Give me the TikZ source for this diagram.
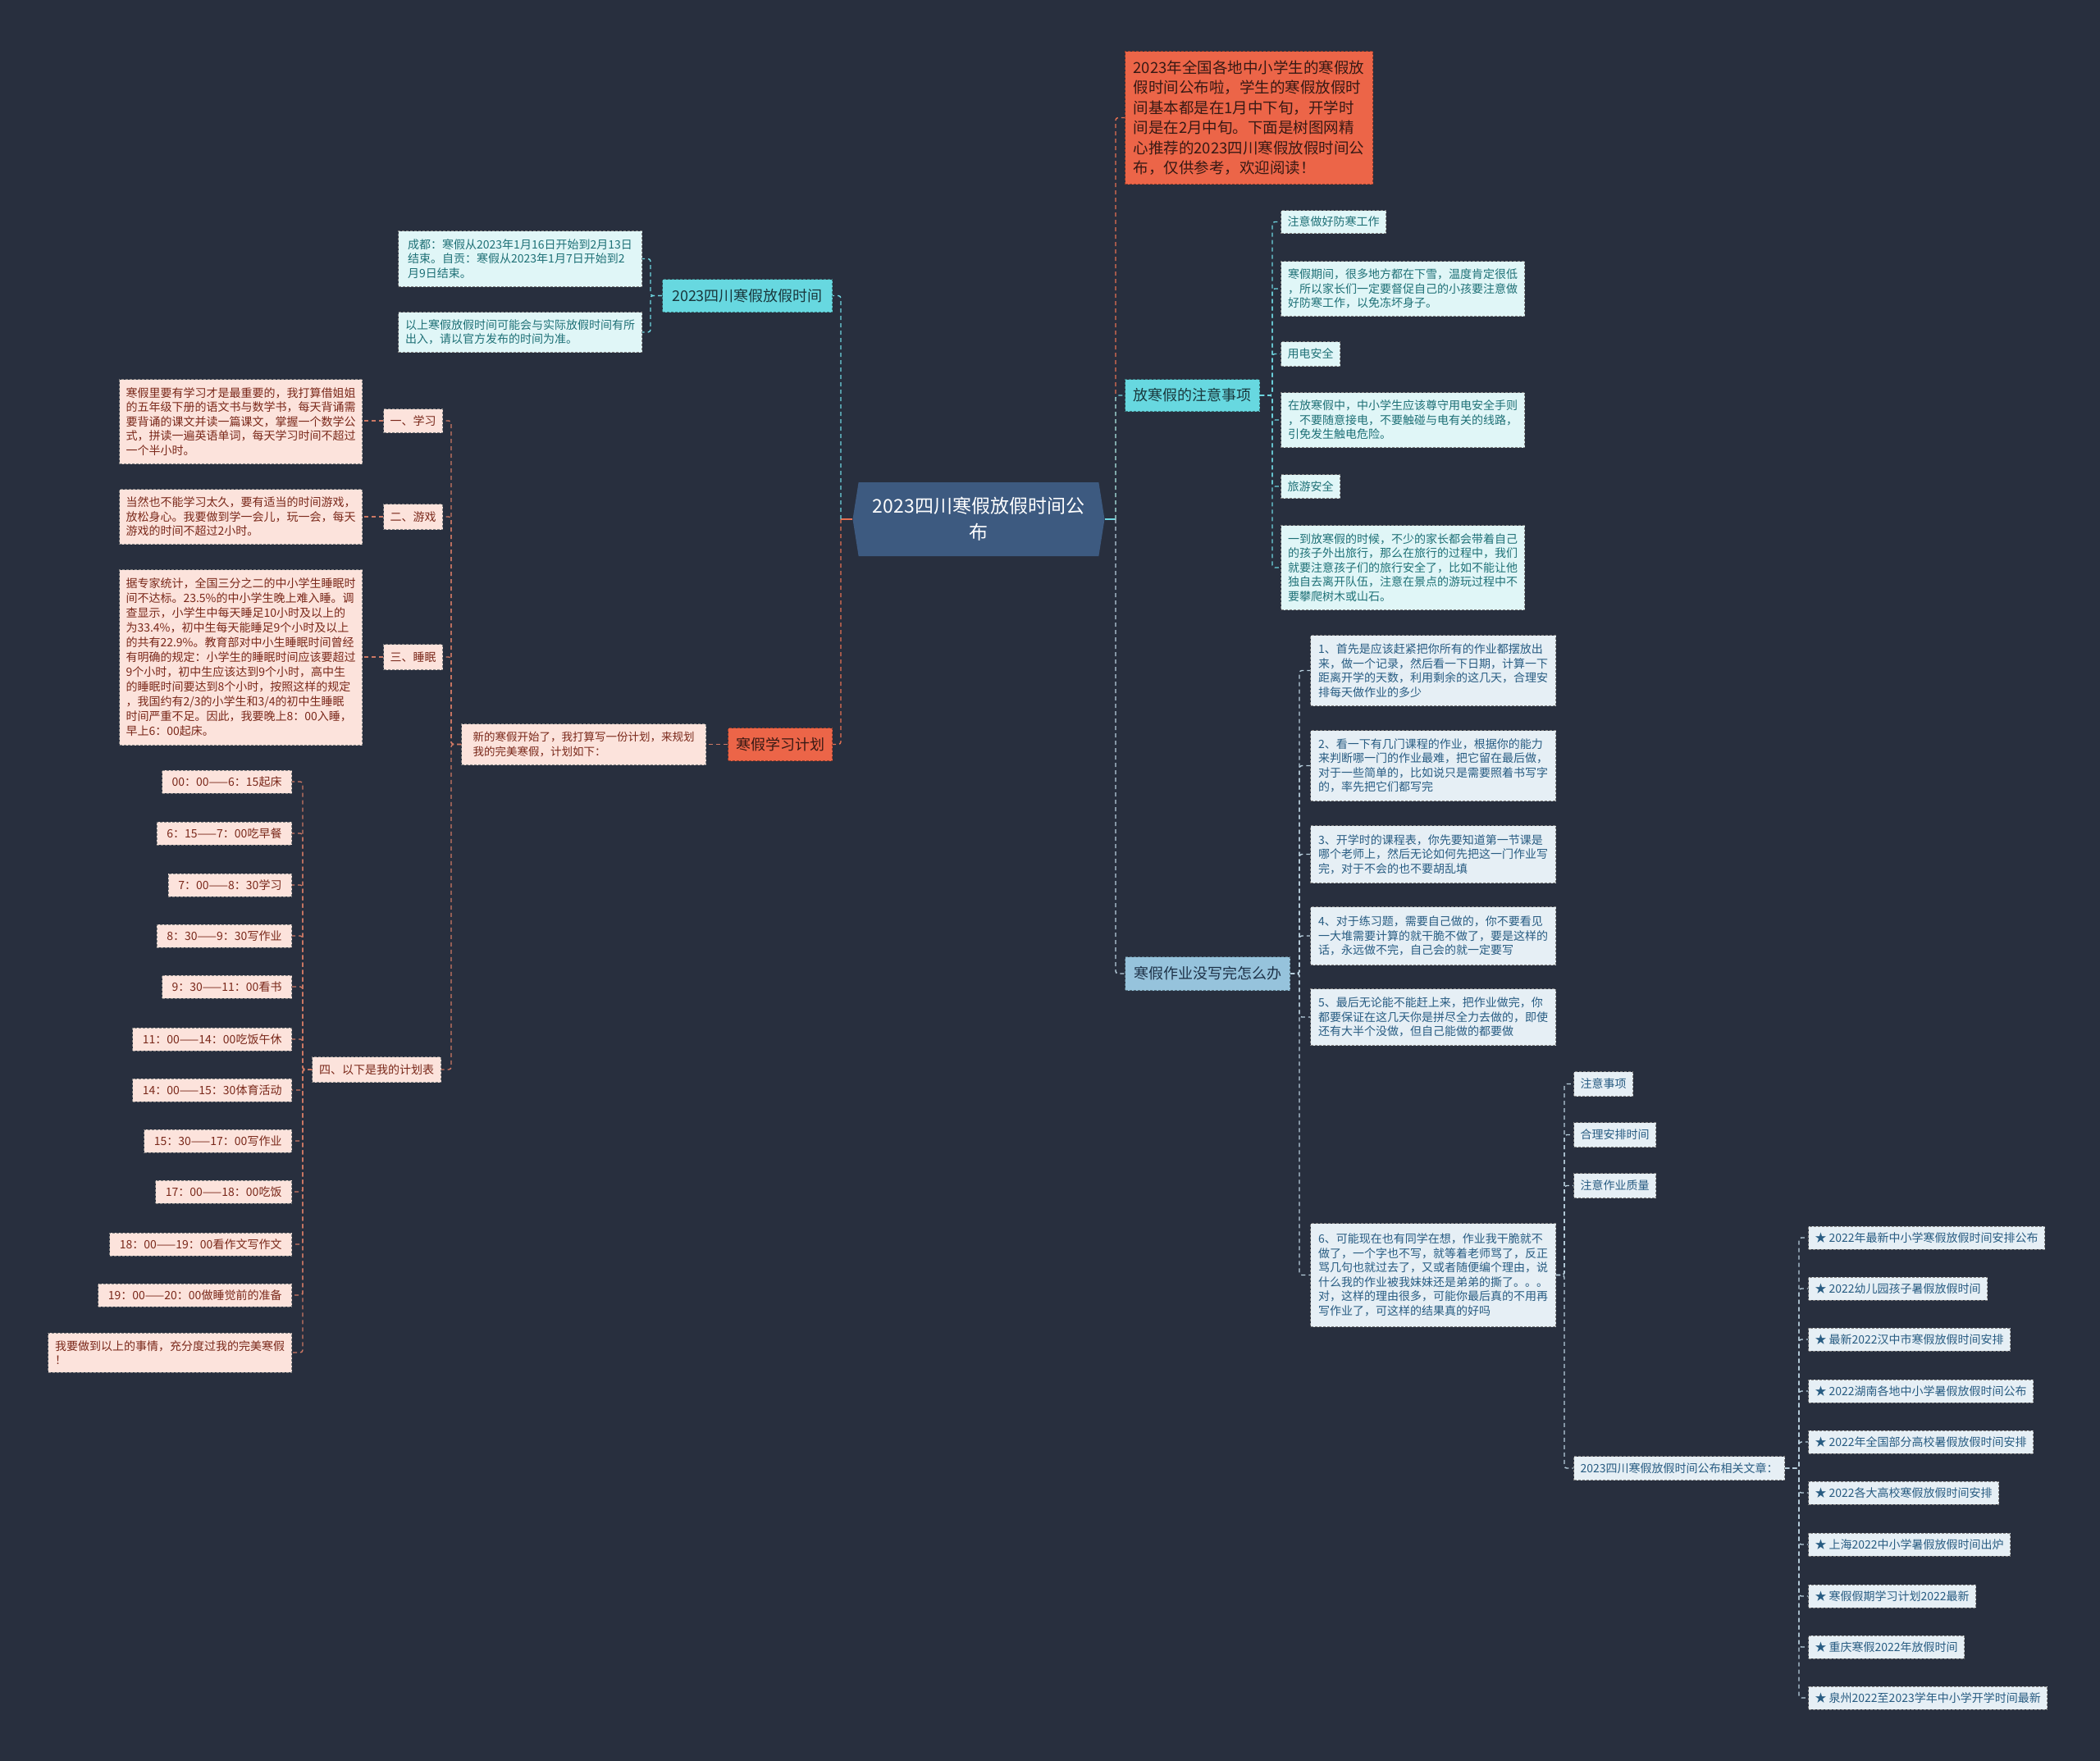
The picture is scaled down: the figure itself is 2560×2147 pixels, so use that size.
\documentclass[tikz,border=0pt]{standalone}
\usepackage{fontspec}
\setmainfont{Noto Sans CJK SC}
\usetikzlibrary{shapes.symbols}
\newcommand\fsz[2]{\fontsize{#1pt}{#2pt}\selectfont}
\definecolor{bg}{RGB}{40,47,62}
\definecolor{ctrfill}{RGB}{61,90,128}
\definecolor{orng}{RGB}{236,101,72}
\definecolor{orngtext}{RGB}{55,25,20}
\definecolor{cyanb}{RGB}{103,216,224}
\definecolor{cyanbtext}{RGB}{25,55,60}
\definecolor{cleaf}{RGB}{224,246,247}
\definecolor{ctext}{RGB}{30,112,118}
\definecolor{pleaf}{RGB}{252,227,220}
\definecolor{ptext}{RGB}{122,40,26}
\definecolor{sleaf}{RGB}{230,239,245}
\definecolor{stext}{RGB}{40,92,130}
\definecolor{sbranch}{RGB}{150,195,220}
\definecolor{sbtext}{RGB}{30,50,72}
\definecolor{ocon}{RGB}{230,112,82}
\definecolor{ccon}{RGB}{110,214,224}
\definecolor{pcon}{RGB}{205,120,100}
\definecolor{scon}{RGB}{185,208,222}
\tikzset{
  base/.style={anchor=north west, align=left, inner xsep=8pt, inner ysep=3pt,
    line width=1pt, dash pattern=on 3pt off 2pt},
  ctrbox/.style={shape=signal, signal to=west and east, signal pointer angle=162,
    fill=ctrfill, text=white, align=center, font=\fsz{23}{32}, inner xsep=6pt},
  obranch/.style={base, fill=orng, draw=orng!60!black, text=orngtext, font=\fsz{18}{24}},
  cbranch/.style={base, fill=cyanb, draw=cyanb!55!black, text=cyanbtext, font=\fsz{18}{24}},
  sbranchbox/.style={base, fill=sbranch, draw=sbranch!55!black, text=sbtext, font=\fsz{18}{24}},
  cleafbox/.style={base, fill=cleaf, draw=black!50, text=ctext, font=\fsz{14}{17.5}},
  pleafbox/.style={base, fill=pleaf, draw=black!50, text=ptext, font=\fsz{14}{17.5}},
  sleafbox/.style={base, fill=sleaf, draw=black!50, text=stext, font=\fsz{14}{17.5}},
  schedbox/.style={pleafbox, anchor=east, minimum height=28pt, inner xsep=12pt},
  artbox/.style={sleafbox, anchor=west, minimum height=28pt},
  conn/.style={line width=1.4pt, dash pattern=on 5pt off 4pt, rounded corners=3pt},
  oconn/.style={conn, draw=ocon},
  cconn/.style={conn, draw=ccon},
  pconn/.style={conn, draw=pcon},
  sconn/.style={conn, draw=scon},
}
\begin{document}
\begin{tikzpicture}[x=1pt,y=-1pt]
\fill[bg] (0,0) rectangle (2560,2147);
\useasboundingbox (0,0) rectangle (2560,2147);

% bus coordinates
\coordinate (busR) at (1360,0);
\coordinate (busL) at (1025,0);
\coordinate (busA) at (793,0);
\coordinate (busP) at (550,0);
\coordinate (busS) at (369,0);
\coordinate (busN) at (1551,0);
\coordinate (busH) at (1584,0);
\coordinate (busSix) at (1907,0);
\coordinate (busArt) at (2193,0);

% centre
\node[ctrbox, minimum width=307pt, minimum height=90pt] (ctr) at (1193,633)
  {2023四川寒假放假时间公\\布};

% top intro box
\node[obranch, font=\fsz{18.5}{24.5}, minimum width=302pt, minimum height=162pt, inner xsep=10pt] (intro) at (1371,62)
  {2023年全国各地中小学生的寒假放\\假时间公布啦，学生的寒假放假时\\间基本都是在1月中下旬，开学时\\间是在2月中旬。下面是树图网精\\心推荐的2023四川寒假放假时间公\\布，仅供参考，欢迎阅读！};

% left branches
\node[cbranch, minimum width=207pt, minimum height=40pt] (bA) at (807,340) {2023四川寒假放假时间};
\node[obranch, minimum width=127pt, minimum height=40pt] (bB) at (887,887) {寒假学习计划};

% right branches
\node[cbranch, minimum width=164pt, minimum height=39pt] (bC) at (1371,462) {放寒假的注意事项};
\node[sbranchbox, minimum width=201pt, minimum height=41pt] (bD) at (1371,1166) {寒假作业没写完怎么办};

% leaves of A
\node[cleafbox, minimum width=297pt, minimum height=68pt, inner xsep=7pt] (a1) at (485,281)
  {成都：寒假从2023年1月16日开始到2月13日\\结束。自贡：寒假从2023年1月7日开始到2\\月9日结束。};
\node[cleafbox, minimum width=297pt, minimum height=49pt, inner xsep=7pt] (a2) at (485,380)
  {以上寒假放假时间可能会与实际放假时间有所\\出入，请以官方发布的时间为准。};

% plan branch
\node[pleafbox, font=\fsz{13.5}{17.5}, minimum width=298pt, minimum height=50pt, inner xsep=7pt] (pi) at (562,882)
  {新的寒假开始了，我打算写一份计划，来规划\\我的完美寒假，计划如下：};
\node[pleafbox, minimum width=70pt, minimum height=29pt] (p1) at (467,498) {一、学习};
\node[pleafbox, minimum width=70pt, minimum height=31pt] (p2) at (467,614) {二、游戏};
\node[pleafbox, minimum width=70pt, minimum height=31pt] (p3) at (467,785) {三、睡眠};
\node[pleafbox, minimum width=157pt, minimum height=31pt] (p4) at (380,1288) {四、以下是我的计划表};

\node[pleafbox, minimum width=296pt, minimum height=103pt] (q1) at (145,462)
  {寒假里要有学习才是最重要的，我打算借姐姐\\的五年级下册的语文书与数学书，每天背诵需\\要背诵的课文并读一篇课文，掌握一个数学公\\式，拼读一遍英语单词，每天学习时间不超过\\一个半小时。};
\node[pleafbox, minimum width=296pt, minimum height=67pt] (q2) at (145,596)
  {当然也不能学习太久，要有适当的时间游戏，\\放松身心。我要做到学一会儿，玩一会，每天\\游戏的时间不超过2小时。};
\node[pleafbox, font=\fsz{14}{18}, minimum width=296pt, minimum height=214pt] (q3) at (145,694)
  {据专家统计，全国三分之二的中小学生睡眠时\\间不达标。23.5\%的中小学生晚上难入睡。调\\查显示，小学生中每天睡足10小时及以上的\\为33.4\%，初中生每天能睡足9个小时及以上\\的共有22.9\%。教育部对中小生睡眠时间曾经\\有明确的规定：小学生的睡眠时间应该要超过\\9个小时，初中生应该达到9个小时，高中生\\的睡眠时间要达到8个小时，按照这样的规定\\，我国约有2/3的小学生和3/4的初中生睡眠\\时间严重不足。因此，我要晚上8：00入睡，\\早上6：00起床。};

% schedule
\node[schedbox] (t1) at (356,953) {00：00——6：15起床};
\node[schedbox] (t2) at (356,1016) {6：15——7：00吃早餐};
\node[schedbox] (t3) at (356,1079) {7：00——8：30学习};
\node[schedbox] (t4) at (356,1141) {8：30——9：30写作业};
\node[schedbox] (t5) at (356,1203) {9：30——11：00看书};
\node[schedbox] (t6) at (356,1267) {11：00——14：00吃饭午休};
\node[schedbox] (t7) at (356,1329) {14：00——15：30体育活动};
\node[schedbox] (t8) at (356,1391) {15：30——17：00写作业};
\node[schedbox] (t9) at (356,1453) {17：00——18：00吃饭};
\node[schedbox] (t10) at (356,1517) {18：00——19：00看作文写作文};
\node[schedbox] (t11) at (356,1579) {19：00——20：00做睡觉前的准备};
\node[pleafbox, anchor=east, minimum width=297pt, minimum height=48pt] (t12) at (356,1649) {我要做到以上的事情，充分度过我的完美寒假\\！};

% notes branch leaves
\node[cleafbox, minimum width=127pt, minimum height=28pt] (n1) at (1561,256) {注意做好防寒工作};
\node[cleafbox, minimum width=297pt, minimum height=67pt] (n2) at (1561,318)
  {寒假期间，很多地方都在下雪，温度肯定很低\\，所以家长们一定要督促自己的小孩要注意做\\好防寒工作，以免冻坏身子。};
\node[cleafbox, minimum width=70pt, minimum height=30pt] (n3) at (1561,416) {用电安全};
\node[cleafbox, minimum width=297pt, minimum height=67pt] (n4) at (1561,478)
  {在放寒假中，中小学生应该尊守用电安全手则\\，不要随意接电，不要触碰与电有关的线路，\\引免发生触电危险。};
\node[cleafbox, minimum width=70pt, minimum height=29pt] (n5) at (1561,578) {旅游安全};
\node[cleafbox, minimum width=297pt, minimum height=103pt] (n6) at (1561,640)
  {一到放寒假的时候，不少的家长都会带着自己\\的孩子外出旅行，那么在旅行的过程中，我们\\就要注意孩子们的旅行安全了，比如不能让他\\独自去离开队伍，注意在景点的游玩过程中不\\要攀爬树木或山石。};

% homework leaves
\node[sleafbox, minimum width=299pt, minimum height=86pt] (h1) at (1597,774)
  {1、首先是应该赶紧把你所有的作业都摆放出\\来，做一个记录，然后看一下日期，计算一下\\距离开学的天数，利用剩余的这几天，合理安\\排每天做作业的多少};
\node[sleafbox, minimum width=299pt, minimum height=86pt] (h2) at (1597,890)
  {2、看一下有几门课程的作业，根据你的能力\\来判断哪一门的作业最难，把它留在最后做，\\对于一些简单的，比如说只是需要照着书写字\\的，率先把它们都写完};
\node[sleafbox, minimum width=299pt, minimum height=70pt] (h3) at (1597,1006)
  {3、开学时的课程表，你先要知道第一节课是\\哪个老师上，然后无论如何先把这一门作业写\\完，对于不会的也不要胡乱填};
\node[sleafbox, minimum width=299pt, minimum height=71pt] (h4) at (1597,1105)
  {4、对于练习题，需要自己做的，你不要看见\\一大堆需要计算的就干脆不做了，要是这样的\\话，永远做不完，自己会的就一定要写};
\node[sleafbox, minimum width=299pt, minimum height=69pt] (h5) at (1597,1205)
  {5、最后无论能不能赶上来，把作业做完，你\\都要保证在这几天你是拼尽全力去做的，即使\\还有大半个没做，但自己能做的都要做};
\node[sleafbox, minimum width=299pt, minimum height=126pt] (h6) at (1597,1491)
  {6、可能现在也有同学在想，作业我干脆就不\\做了，一个字也不写，就等着老师骂了，反正\\骂几句也就过去了，又或者随便编个理由，说\\什么我的作业被我妹妹还是弟弟的撕了。。。\\对，这样的理由很多，可能你最后真的不用再\\写作业了，可这样的结果真的好吗};

\node[sleafbox, minimum width=71pt, minimum height=30pt] (k1) at (1918,1306) {注意事项};
\node[sleafbox, minimum width=100pt, minimum height=30pt] (k2) at (1918,1368) {合理安排时间};
\node[sleafbox, minimum width=100pt, minimum height=30pt] (k3) at (1918,1430) {注意作业质量};
\node[sleafbox, minimum width=216pt, minimum height=29pt] (k4) at (1918,1775) {2023四川寒假放假时间公布相关文章：};

% articles
\node[artbox] (r1) at (2204,1509) {★ 2022年最新中小学寒假放假时间安排公布};
\node[artbox] (r2) at (2204,1571) {★ 2022幼儿园孩子暑假放假时间};
\node[artbox] (r3) at (2204,1633) {★ 最新2022汉中市寒假放假时间安排};
\node[artbox] (r4) at (2204,1696) {★ 2022湖南各地中小学暑假放假时间公布};
\node[artbox] (r5) at (2204,1758) {★ 2022年全国部分高校暑假放假时间安排};
\node[artbox] (r6) at (2204,1820) {★ 2022各大高校寒假放假时间安排};
\node[artbox] (r7) at (2204,1883) {★ 上海2022中小学暑假放假时间出炉};
\node[artbox] (r8) at (2204,1946) {★ 寒假假期学习计划2022最新};
\node[artbox] (r9) at (2204,2008) {★ 重庆寒假2022年放假时间};
\node[artbox] (r10) at (2204,2070) {★ 泉州2022至2023学年中小学开学时间最新};

% ---------- connectors ----------
% centre left
\draw[line width=2pt, draw=ocon] (ctr.west) -- (ctr.west -| busL);
\draw[cconn] (ctr.west -| busL) |- (bA.east);
\draw[oconn] (ctr.west -| busL) |- (bB.east);
% centre right
\draw[line width=2pt, draw=ccon] (ctr.east) -- (ctr.east -| busR);
\draw[oconn] (ctr.east -| busR) |- (intro.west);
\draw[cconn] (ctr.east -| busR) |- (bC.west);
\draw[sconn] (ctr.east -| busR) |- (bD.west);

% branch A
\foreach \c in {a1,a2} \draw[cconn] (bA.west) -- (bA.west -| busA) |- (\c.east);
% branch B
\draw[pconn] (bB.west) -- (bB.west -| pi.east);
\foreach \c in {p1,p2,p3,p4} \draw[pconn] (pi.west) -- (pi.west -| busP) |- (\c.east);
\draw[pconn] (p1.west) -- (p1.west -| q1.east);
\draw[pconn] (p2.west) -- (p2.west -| q2.east);
\draw[pconn] (p3.west) -- (p3.west -| q3.east);
\foreach \c in {t1,t2,t3,t4,t5,t6,t7,t8,t9,t10,t11,t12} \draw[pconn] (p4.west) -- (p4.west -| busS) |- (\c.east);
% branch C
\foreach \c in {n1,n2,n3,n4,n5,n6} \draw[cconn] (bC.east) -- (bC.east -| busN) |- (\c.west);
% branch D
\foreach \c in {h1,h2,h3,h4,h5,h6} \draw[sconn] (bD.east) -- (bD.east -| busH) |- (\c.west);
\foreach \c in {k1,k2,k3,k4} \draw[sconn] (h6.east) -- (h6.east -| busSix) |- (\c.west);
\foreach \c in {r1,r2,r3,r4,r5,r6,r7,r8,r9,r10} \draw[sconn] (k4.east) -- (k4.east -| busArt) |- (\c.west);
\end{tikzpicture}
\end{document}
